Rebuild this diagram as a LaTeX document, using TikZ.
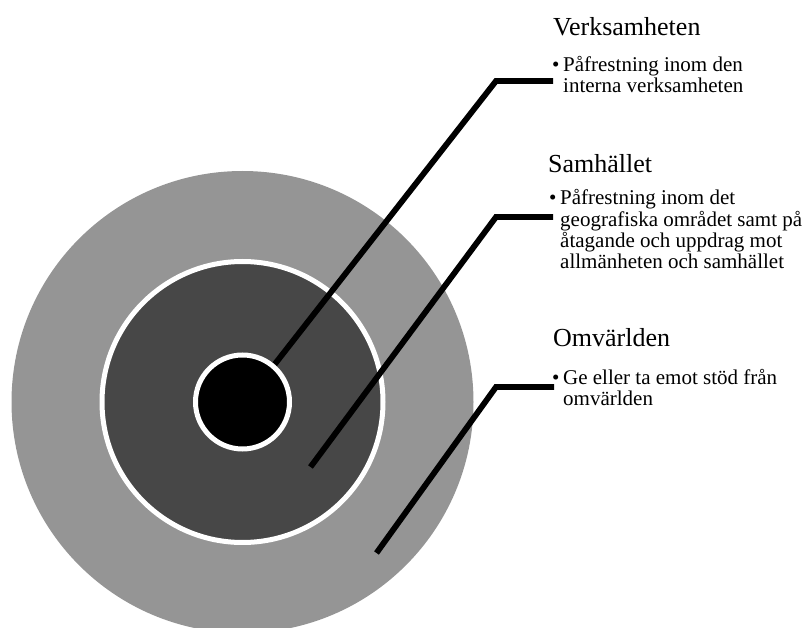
\documentclass[tikz,border=0pt]{standalone}
\usepackage{fontspec}
\setmainfont{Liberation Serif}
\begin{document}
\begin{tikzpicture}[x=1pt,y=-1pt,
  ring/.style={circle,inner sep=0pt,outer sep=0pt},
  leader/.style={line width=5.8pt,line join=miter,line cap=butt,black},
  title/.style={anchor=base west,inner sep=0pt,font=\fontsize{26}{30}\selectfont},
  body/.style={anchor=base west,inner sep=0pt,font=\fontsize{21}{20.4}\selectfont}]
\useasboundingbox (0,0) rectangle (807,628);
\begin{scope}
\clip (0,0) rectangle (807,628);
\node[ring,fill={rgb,255:red,149;green,149;blue,149},minimum size=462pt] (outer) at (242.5,402) {};
\node[ring,fill={rgb,255:red,71;green,71;blue,71},draw=white,line width=5pt,minimum size=281pt] (middle) at (242.5,402) {};
\end{scope}
% leader lines
\coordinate (s1) at (271,369);
\coordinate (c1) at (496,81);
\coordinate (e1) at (553,81);
\coordinate (s2) at (310.5,467);
\coordinate (c2) at (496,217);
\coordinate (e2) at (553,217);
\coordinate (s3) at (376.5,553);
\coordinate (c3) at (496,387);
\coordinate (e3) at (554,387);
\draw[leader] (s1) -- (c1) -- (e1);
\draw[leader] (s2) -- (c2) -- (e2);
\draw[leader] (s3) -- (c3) -- (e3);
\node[ring,fill=black,draw=white,line width=5pt,minimum size=94pt] (inner) at (242.5,402) {};
% texts
\node[title] (t1) at (553,36) {Verksamheten};
\node[body] (b1) at (552,72) {\begin{tabular}[t]{@{}l@{}l@{}}\makebox[11pt][l]{\textbullet}&Påfrestning inom den\\&interna verksamheten\end{tabular}};
\node[title] (t2) at (548,173) {Samhället};
\node[body] (b2) at (549,205) {\begin{tabular}[t]{@{}l@{}l@{}}\makebox[11pt][l]{\textbullet}&Påfrestning inom det\\&geografiska området samt på\\&åtagande och uppdrag mot\\&allmänheten och samhället\end{tabular}};
\node[title] (t3) at (553,347) {Omvärlden};
\node[body] (b3) at (552,385) {\begin{tabular}[t]{@{}l@{}l@{}}\makebox[11pt][l]{\textbullet}&Ge eller ta emot stöd från\\&omvärlden\end{tabular}};
\end{tikzpicture}
\end{document}
